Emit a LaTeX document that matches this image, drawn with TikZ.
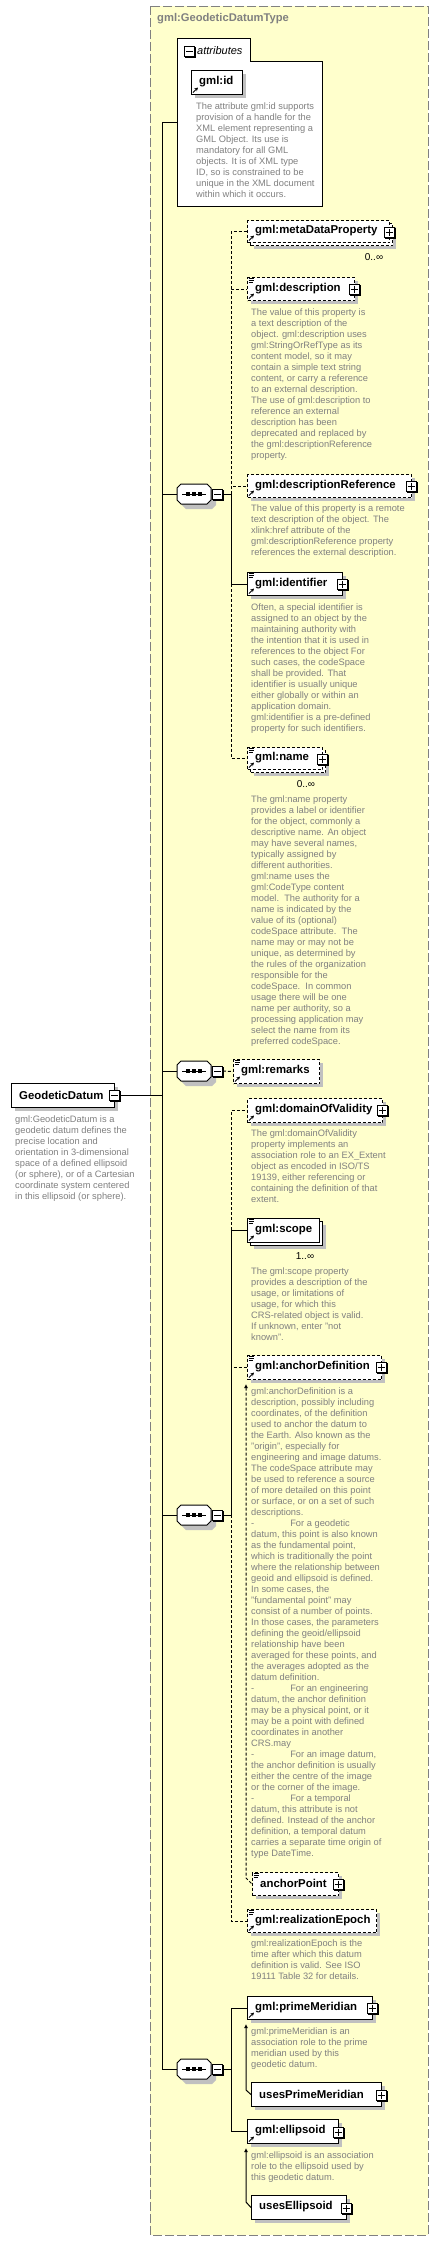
\documentclass[tikz,border=0pt]{standalone}
\usepackage{fontspec}
\setmainfont{Liberation Sans}
\usetikzlibrary{arrows.meta}
\definecolor{ylw}{RGB}{255,255,204}
\definecolor{shd}{RGB}{192,192,192}
\definecolor{dgray}{RGB}{128,128,128}
\tikzset{
 x=1pt,y=-1pt,
 elbox/.style={draw=black,fill=white,line width=1pt,inner sep=0pt,anchor=north west},
 optl/.style={dash pattern=on 3pt off 2pt},
 lbl/.style={font=\bfseries\fontsize{11.4}{13}\selectfont,inner sep=0pt,anchor=west},
 desc/.style={font=\fontsize{9.3}{11}\selectfont,text=dgray,inner sep=0pt,anchor=north west,align=left},
 conn/.style={line width=1pt,draw=black},
 mult/.style={font=\fontsize{10}{11}\selectfont,inner sep=0pt},
 ttl/.style={font=\bfseries\fontsize{11.2}{13}\selectfont,text=dgray,inner sep=0pt,anchor=west}
}
\newcommand\elem[7]{%
 \fill[shd] (#2+4,#3+4) rectangle (#4+4,#5+4);
 \node[elbox,#6,minimum width={#4-#2},minimum height={#5-#3}] (#1) at (#2,#3) {};
 \node[lbl] (#1l) at (#2+8,{(#3+#5)/2}) {#7};
}
\newcommand\melem[7]{%
 \fill[shd] (#2+7,#3+7) rectangle (#4+7,#5+7);
 \node[elbox,#6,minimum width={#4-#2},minimum height={#5-#3}] (#1b) at (#2+3,#3+3) {};
 \node[elbox,#6,minimum width={#4-#2},minimum height={#5-#3}] (#1) at (#2,#3) {};
 \node[lbl] (#1l) at (#2+8,{(#3+#5)/2}) {#7};
}
\newcommand\plusbx[3]{%
 \fill[black] (#2-4.5,#3-4.5) rectangle (#2+6.5,#3+6.5);
 \node[draw=black,fill=white,line width=1pt,inner sep=0pt,minimum size=10pt] (#1) at (#2,#3) {};
 \draw[line width=1pt] (#2-3.5,#3) -- (#2+3.5,#3) (#2,#3-3.5) -- (#2,#3+3.5);
}
\newcommand\minusb[3]{%
 \fill[black] (#2-4.5,#3-4.5) rectangle (#2+6.5,#3+6.5);
 \node[draw=black,fill=white,line width=1pt,inner sep=0pt,minimum size=10pt] (#1) at (#2,#3) {};
 \draw[line width=1pt] (#2-3.5,#3) -- (#2+3.5,#3);
}
\newcommand\docic[2]{\draw[line width=0.9pt] (#1+1.5,#2+1.5)--(#1+6.5,#2+1.5) (#1+1.5,#2+3.5)--(#1+6.5,#2+3.5) (#1+1.5,#2+5.5)--(#1+5.5,#2+5.5);}
\newcommand\refic[2]{\draw[line width=1pt,-{Stealth[length=3.5pt,width=3.5pt]}] (#1+2,#2-1.5) -- (#1+7,#2-6.5);}
\newcommand\dtext[4]{\node[desc] (#1) at (#2,#3-4.5) {#4};}
\newcommand\seqn[2]{%
 \fill[shd] (182,#2-1) -- (186,#2-5) -- (212,#2-5) -- (216,#2-1) -- (216,#2+11) -- (212,#2+15) -- (186,#2+15) -- (182,#2+11) -- cycle;
 \draw[fill=white,line width=1pt] (177,#2-6) -- (181,#2-10) -- (207,#2-10) -- (211,#2-6) -- (211,#2+6) -- (207,#2+10) -- (181,#2+10) -- (177,#2+6) -- cycle;
 \node[inner sep=0pt,minimum width=34pt,minimum height=20pt] (#1) at (194,#2) {};
 \draw[line width=1pt] (182,#2) -- (206,#2);
 \foreach \dx in {-6,0,6} \fill (194+\dx-1.7,#2-1.7) rectangle (194+\dx+1.7,#2+1.7);
 \minusb{#1m}{217.5}{#2}
}
\begin{document}
\begin{tikzpicture}
\useasboundingbox (0,0) rectangle (439,2241);
\fill[white] (0,0) rectangle (439,2241);
\draw[fill=ylw,draw=dgray,line width=1pt,dash pattern=on 9pt off 3pt] (150,6) rectangle (428,2235);
\node[ttl] (title) at (157,19) {gml:GeodeticDatumType};
% attributes
\draw[fill=white,line width=1pt] (177,38) -- (250,38) -- (250,61) -- (322,61) -- (322,206) -- (177,206) -- cycle;
\minusb{attm}{189.5}{51.5}
\node[font=\itshape\fontsize{11}{13}\selectfont,anchor=west,inner sep=0pt] (attl) at (197,51) {attributes};
\elem{gid}{191}{70}{242}{94}{}{gml:id}
\refic{191}{94}
\dtext{gidd}{196}{107}{The attribute gml:id supports\\provision of a handle for the\\XML element representing a\\GML Object. Its use is\\mandatory for all GML\\objects. It is of XML type\\ID, so is constrained to be\\unique in the XML document\\within which it occurs.}
% trunk
\coordinate (attrW) at (177,122);
\coordinate (tA) at (162,122);
\coordinate (tEnd) at (162,2069);
\coordinate (t1) at (162,494);
\coordinate (t2) at (162,1071);
\coordinate (t3) at (162,1515);
\coordinate (tgd) at (162,1095);
% GeodeticDatum
\elem{gd}{11}{1083}{114}{1107}{}{GeodeticDatum}
\minusb{gdm}{114.5}{1095}
\dtext{gdd}{15}{1120}{gml:GeodeticDatum is a\\geodetic datum defines the\\precise location and\\orientation in 3-dimensional\\space of a defined ellipsoid\\(or sphere), or of a Cartesian\\coordinate system centered\\in this ellipsoid (or sphere).}
% sequences
\seqn{s1}{494}
\seqn{s2}{1071}
\seqn{s3}{1515}
\seqn{s4}{2069}
\draw[conn] (attrW) -- (tA) -- (tEnd) -- (s4.west);
\draw[conn] (t1) -- (s1.west);
\draw[conn] (t2) -- (s2.west);
\draw[conn] (t3) -- (s3.west);
\draw[conn] (gdm.east) -- (tgd);
\coordinate (j1) at (231,494);
\coordinate (j3) at (231,1515);
\coordinate (j4) at (231,2069);
\draw[conn] (s1m.east) -- (j1);
\draw[conn] (s3m.east) -- (j3);
\draw[conn] (s4m.east) -- (j4);
% seq1 children
\melem{mdp}{247}{220}{389}{242}{optl}{gml:metaDataProperty}
\plusbx{mdpp}{389}{232}
\refic{247}{242}
\node[mult] (mdpm) at (374,257) {0..∞};
\elem{dsc}{247}{277}{354}{300}{optl}{gml:description}
\plusbx{dscp}{354}{289}
\docic{247}{277}\refic{247}{300}
\dtext{dscd}{251}{313}{The value of this property is\\a text description of the\\object. gml:description uses\\gml:StringOrRefType as its\\content model, so it may\\contain a simple text string\\content, or carry a reference\\to an external description.\\The use of gml:description to\\reference an external\\description has been\\deprecated and replaced by\\the gml:descriptionReference\\property.}
\elem{dref}{247}{474}{411}{497}{optl}{gml:descriptionReference}
\plusbx{drefp}{411}{486}
\refic{247}{497}
\dtext{drefd}{251}{509}{The value of this property is a remote\\text description of the object. The\\xlink:href attribute of the\\gml:descriptionReference property\\references the external description.}
\elem{ident}{247}{572}{342}{595}{}{gml:identifier}
\plusbx{identp}{342}{584}
\docic{247}{572}\refic{247}{595}
\dtext{identd}{251}{608}{Often, a special identifier is\\assigned to an object by the\\maintaining authority with\\the intention that it is used in\\references to the object For\\such cases, the codeSpace\\shall be provided. That\\identifier is usually unique\\either globally or within an\\application domain.\\gml:identifier is a pre-defined\\property for such identifiers.}
\melem{nam}{247}{747}{322}{769}{optl}{gml:name}
\plusbx{namp}{322}{759}
\docic{247}{747}\refic{247}{769}
\node[mult] (namm) at (306,784) {0..∞};
\dtext{namd}{251}{800}{The gml:name property\\provides a label or identifier\\for the object, commonly a\\descriptive name. An object\\may have several names,\\typically assigned by\\different authorities.\\gml:name uses the\\gml:CodeType content\\model.\ \ The authority for a\\name is indicated by the\\value of its (optional)\\codeSpace attribute.\ \ The\\name may or may not be\\unique, as determined by\\the rules of the organization\\responsible for the\\codeSpace.\ \ In common\\usage there will be one\\name per authority, so a\\processing application may\\select the name from its\\preferred codeSpace.}
\draw[conn,optl] (j1) |- (mdp.west);
\draw[conn,optl] (j1) |- (dsc.west);
\draw[conn,optl] (j1) |- (dref.west);
\draw[conn,optl] (j1) |- (nam.west);
\draw[conn] (j1) |- (ident.west);
% seq2
\elem{rem}{233}{1059}{319}{1083}{optl}{gml:remarks}
\docic{233}{1059}\refic{233}{1083}
\draw[conn,optl] (s2m.east) -- (rem.west);
% seq3 children
\elem{dov}{247}{1098}{382}{1122}{optl}{gml:domainOfValidity}
\plusbx{dovp}{382}{1110}
\refic{247}{1122}
\dtext{dovd}{251}{1134}{The gml:domainOfValidity\\property implements an\\association role to an EX\_Extent\\object as encoded in ISO/TS\\19139, either referencing or\\containing the definition of that\\extent.}
\melem{scp}{247}{1218}{319}{1242}{}{gml:scope}
\docic{247}{1218}\refic{247}{1242}
\node[mult] (scpm) at (305,1256) {1..∞};
\dtext{scpd}{251}{1272}{The gml:scope property\\provides a description of the\\usage, or limitations of\\usage, for which this\\CRS-related object is valid.\\If unknown, enter "not\\known".}
\elem{anch}{247}{1355}{381}{1379}{optl}{gml:anchorDefinition}
\plusbx{anchp}{381}{1367}
\docic{247}{1355}\refic{247}{1379}
\dtext{anchd}{251}{1392}{gml:anchorDefinition is a\\description, possibly including\\coordinates, of the definition\\used to anchor the datum to\\the Earth. Also known as the\\"origin", especially for\\engineering and image datums.\\The codeSpace attribute may\\be used to reference a source\\of more detailed on this point\\or surface, or on a set of such\\descriptions.\\-\hspace{36pt}For a geodetic\\datum, this point is also known\\as the fundamental point,\\which is traditionally the point\\where the relationship between\\geoid and ellipsoid is defined.\\In some cases, the\\"fundamental point" may\\consist of a number of points.\\In those cases, the parameters\\defining the geoid/ellipsoid\\relationship have been\\averaged for these points, and\\the averages adopted as the\\datum definition.\\-\hspace{36pt}For an engineering\\datum, the anchor definition\\may be a physical point, or it\\may be a point with defined\\coordinates in another\\CRS.may\\-\hspace{36pt}For an image datum,\\the anchor definition is usually\\either the centre of the image\\or the corner of the image.\\-\hspace{36pt}For a temporal\\datum, this attribute is not\\defined. Instead of the anchor\\definition, a temporal datum\\carries a separate time origin of\\type DateTime.}
\elem{apt}{252}{1872}{338}{1895}{optl}{anchorPoint}
\plusbx{aptp}{338}{1884}
\docic{252}{1872}
\coordinate (aTop) at (246,1384);
\coordinate (aBot) at (246,1878);
\draw[conn,optl,{Latex[length=4pt,width=4pt]}-] (aTop) -- (aBot) -- (apt.west);
\elem{rep}{247}{1909}{376}{1932}{optl}{gml:realizationEpoch}
\docic{247}{1909}\refic{247}{1932}
\dtext{repd}{251}{1944}{gml:realizationEpoch is the\\time after which this datum\\definition is valid. See ISO\\19111 Table 32 for details.}
\draw[conn,optl] (j3) |- (dov.west);
\draw[conn,optl] (j3) |- (anch.west);
\draw[conn,optl] (j3) |- (rep.west);
\draw[conn] (j3) |- (scp.west);
% seq4 children
\elem{pm}{247}{1996}{372}{2019}{}{gml:primeMeridian}
\plusbx{pmp}{372}{2008}
\refic{247}{2019}
\dtext{pmd}{251}{2032}{gml:primeMeridian is an\\association role to the prime\\meridian used by this\\geodetic datum.}
\elem{upm}{251}{2082}{381}{2106}{}{usesPrimeMeridian}
\plusbx{upmp}{381}{2095}
\coordinate (pTop) at (246,2024);
\coordinate (pBot) at (246,2090);
\draw[conn,{Latex[length=4pt,width=4pt]}-] (pTop) -- (pBot) -- (upm.west);
\elem{ell}{247}{2119}{338}{2143}{}{gml:ellipsoid}
\plusbx{ellp}{338}{2132}
\refic{247}{2143}
\dtext{elld}{251}{2156}{gml:ellipsoid is an association\\role to the ellipsoid used by\\this geodetic datum.}
\elem{uell}{251}{2195}{346}{2219}{}{usesEllipsoid}
\plusbx{uellp}{346}{2208}
\coordinate (eTop) at (246,2148);
\coordinate (eBot) at (246,2202);
\draw[conn,{Latex[length=4pt,width=4pt]}-] (eTop) -- (eBot) -- (uell.west);
\draw[conn] (j4) |- (pm.west);
\draw[conn] (j4) |- (ell.west);
\end{tikzpicture}
\end{document}
